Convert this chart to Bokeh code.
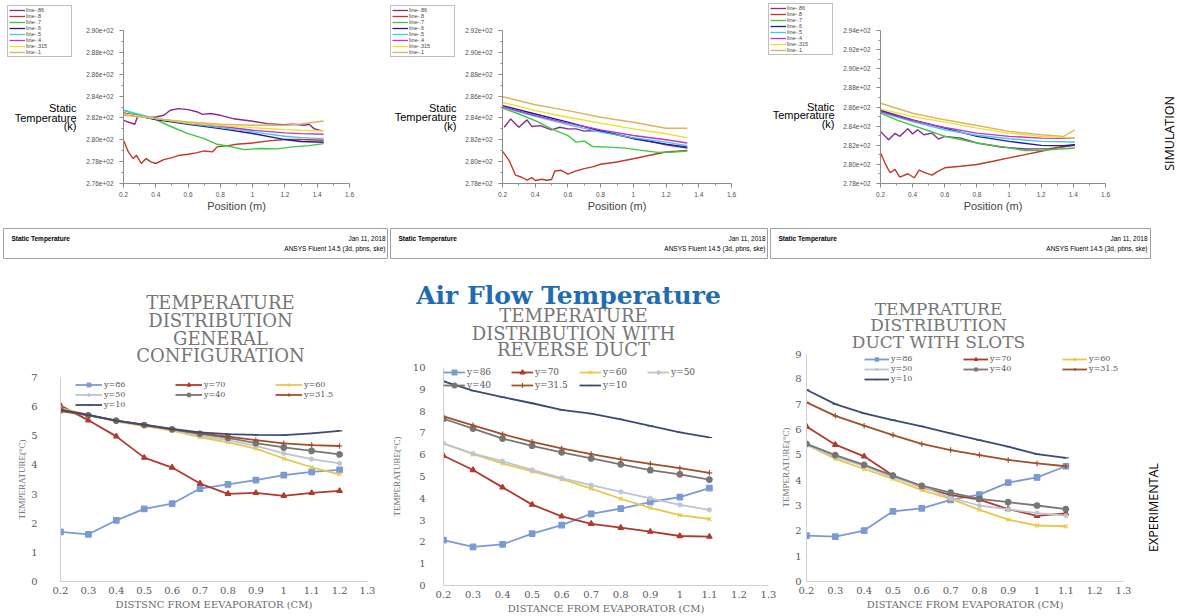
from bokeh.plotting import figure
from bokeh.models import (Range1d, FixedTicker, CustomJSTickFormatter, Label,
                          Legend, LegendItem)
from bokeh.layouts import column, row
from bokeh.embed import file_html
from bokeh.resources import INLINE

# ------------------------------------------------------------------ DATA
sim_names = ["line-.86", "line-.8", "line-.7", "line-.6", "line-.5", "line-.4", "line-.315", "line-.1"]

# ---- simulation panel 1 (general configuration)
sim1_x_smooth = [0.2, 0.4, 0.6, 0.8, 1.0, 1.2, 1.3, 1.44]
sim1_l6 = [282.45, 281.84, 281.42, 281.02, 280.57, 280.02, 279.84, 279.77]
sim1_l5 = [282.70, 281.94, 281.48, 281.11, 280.72, 280.32, 280.20, 280.11]
sim1_l4 = [282.39, 281.94, 281.54, 281.24, 280.87, 280.63, 280.56, 280.51]
sim1_l315 = [282.39, 281.94, 281.54, 281.30, 281.11, 280.93, 280.87, 280.81]
sim1_l1 = [282.24, 281.94, 281.63, 281.42, 281.33, 281.33, 281.45, 281.72]
sim1_x_l7 = [0.2, 0.3, 0.4, 0.5, 0.6, 0.7, 0.78, 0.85, 0.95, 1.05, 1.15, 1.25, 1.35, 1.44]
sim1_l7 = [282.70, 282.24, 281.84, 281.17, 280.57, 280.11, 279.59, 279.41, 279.10, 279.20, 279.17, 279.35, 279.47, 279.65]
sim1_x_l86 = [0.2, 0.27, 0.29, 0.35, 0.4, 0.45, 0.49, 0.54, 0.6, 0.66, 0.69, 0.74, 0.8, 0.88, 0.99, 1.09, 1.19, 1.25, 1.32, 1.35, 1.38, 1.43]
sim1_l86 = [281.78, 281.42, 282.24, 282.03, 282.09, 282.24, 282.70, 282.85, 282.76, 282.54, 282.33, 282.40, 282.24, 281.93, 281.72, 281.48, 281.39, 281.42, 281.33, 281.42, 281.02, 280.81]
sim1_x_l8 = [0.2, 0.23, 0.26, 0.28, 0.31, 0.34, 0.37, 0.4, 0.45, 0.5, 0.55, 0.6, 0.65, 0.7, 0.75, 0.78, 0.85, 0.9, 1.0, 1.1, 1.2, 1.3, 1.44]
sim1_l8 = [279.96, 278.89, 278.28, 278.59, 277.83, 278.28, 277.98, 277.83, 278.19, 278.37, 278.59, 278.68, 278.80, 278.98, 278.89, 279.35, 279.47, 279.59, 279.71, 279.90, 280.02, 280.02, 279.96]

# ---- simulation panel 2 (reverse duct)
sim2_x_smooth = [0.2, 0.4, 0.6, 0.8, 1.0, 1.2, 1.33]
sim2_l1 = [285.94, 285.21, 284.67, 284.06, 283.61, 283.05, 283.06]
sim2_l315 = [285.42, 284.67, 284.06, 283.52, 283.00, 282.55, 282.18]
sim2_l6 = [285.12, 284.36, 283.61, 282.80, 282.10, 281.60, 281.33]
sim2_l4 = [285.03, 284.21, 283.52, 282.91, 282.39, 282.00, 281.70]
sim2_l5 = [284.97, 284.15, 283.39, 282.70, 282.18, 281.79, 281.45]
sim2_x_l7 = [0.2, 0.3, 0.4, 0.5, 0.6, 0.65, 0.7, 0.75, 0.85, 0.95, 1.05, 1.15, 1.25, 1.33]
sim2_l7 = [284.91, 284.36, 283.76, 283.00, 282.39, 281.79, 281.88, 281.39, 281.33, 281.24, 281.03, 280.85, 280.88, 280.97]
sim2_x_l86 = [0.21, 0.25, 0.3, 0.35, 0.38, 0.43, 0.5, 0.55, 0.6, 0.65, 0.7, 0.75, 0.8, 0.9, 1.0, 1.1, 1.2, 1.33]
sim2_l86 = [283.15, 283.91, 283.15, 283.82, 283.21, 283.30, 282.91, 283.15, 283.00, 283.00, 282.79, 282.85, 282.80, 282.50, 282.15, 281.85, 281.55, 281.25]
sim2_x_l8 = [0.2, 0.24, 0.28, 0.32, 0.35, 0.38, 0.4, 0.44, 0.47, 0.5, 0.52, 0.56, 0.6, 0.65, 0.7, 0.75, 0.8, 0.9, 1.0, 1.1, 1.2, 1.33]
sim2_l8 = [280.97, 280.12, 278.76, 278.55, 278.30, 278.55, 278.27, 278.39, 278.30, 278.36, 279.15, 279.21, 278.85, 279.15, 279.36, 279.52, 279.76, 279.97, 280.27, 280.58, 280.88, 281.03]

# ---- simulation panel 3 (duct with slots)
sim3_x_smooth = [0.2, 0.4, 0.6, 0.8, 1.0, 1.2, 1.34, 1.41]
sim3_l1 = [286.39, 285.35, 284.66, 284.07, 283.45, 283.10, 282.93, 283.62]
sim3_l315 = [285.80, 285.00, 284.42, 283.79, 283.27, 282.93, 282.80, 282.75]
sim3_l6 = [285.63, 284.66, 283.79, 282.93, 282.41, 281.99, 281.95, 282.06]
sim3_l4 = [285.52, 284.59, 283.86, 283.27, 282.93, 282.75, 282.72, 282.75]
sim3_l5 = [285.45, 284.48, 283.62, 283.04, 282.68, 282.41, 282.36, 282.34]
sim3_x_l7 = [0.2, 0.3, 0.4, 0.5, 0.6, 0.8, 1.0, 1.1, 1.2, 1.41]
sim3_l7 = [285.35, 284.66, 284.07, 283.52, 282.93, 282.24, 281.72, 281.44, 281.47, 281.72]
sim3_x_l86 = [0.2, 0.25, 0.29, 0.32, 0.37, 0.4, 0.43, 0.47, 0.52, 0.56, 0.6, 0.7, 0.8, 0.95, 1.1, 1.25, 1.41]
sim3_l86 = [283.45, 282.58, 283.24, 282.93, 283.72, 283.17, 283.62, 283.10, 283.27, 282.65, 282.93, 282.75, 282.24, 281.82, 281.61, 281.65, 282.00]
sim3_x_l8 = [0.2, 0.23, 0.26, 0.29, 0.32, 0.37, 0.41, 0.44, 0.48, 0.52, 0.56, 0.6, 0.7, 0.8, 0.9, 1.0, 1.1, 1.2, 1.3, 1.41]
sim3_l8 = [281.20, 280.06, 279.12, 279.47, 278.67, 279.02, 278.60, 279.40, 279.12, 278.88, 279.30, 279.64, 279.81, 279.99, 280.33, 280.68, 281.02, 281.37, 281.72, 282.06]

sim_x_ticks = [0.2, 0.4, 0.6, 0.8, 1.0, 1.2, 1.4, 1.6]
sim_x_minor = [0.3, 0.5, 0.7, 0.9, 1.1, 1.3, 1.5]

# ---- experimental
exp_labels = ["y=86", "y=70", "y=60", "y=50", "y=40", "y=31.5", "y=10"]
exp_x_ticks = [0.2, 0.3, 0.4, 0.5, 0.6, 0.7, 0.8, 0.9, 1.0, 1.1, 1.2, 1.3]

exp1_x = [0.2, 0.3, 0.4, 0.5, 0.6, 0.7, 0.8, 0.9, 1.0, 1.1, 1.2]
exp1_y86 = [1.70, 1.62, 2.10, 2.49, 2.67, 3.19, 3.33, 3.48, 3.65, 3.76, 3.83]
exp1_y70 = [6.04, 5.53, 4.98, 4.25, 3.91, 3.36, 3.01, 3.04, 2.94, 3.04, 3.11]
exp1_y60 = [5.95, 5.72, 5.49, 5.33, 5.18, 4.95, 4.77, 4.56, 4.22, 3.92, 3.68]
exp1_y50 = [5.90, 5.72, 5.50, 5.35, 5.20, 5.00, 4.85, 4.65, 4.40, 4.20, 4.05]
exp1_y40 = [5.88, 5.70, 5.52, 5.37, 5.22, 5.07, 4.93, 4.75, 4.60, 4.48, 4.36]
exp1_y315 = [5.85, 5.70, 5.52, 5.37, 5.22, 5.08, 4.97, 4.85, 4.74, 4.68, 4.65]
exp1_y10 = [5.90, 5.72, 5.52, 5.38, 5.24, 5.12, 5.06, 5.03, 5.02, 5.08, 5.17]

exp2_x = [0.2, 0.3, 0.4, 0.5, 0.6, 0.7, 0.8, 0.9, 1.0, 1.1]
exp2_y86 = [2.08, 1.77, 1.89, 2.38, 2.77, 3.29, 3.53, 3.83, 4.05, 4.47]
exp2_y70 = [5.95, 5.30, 4.50, 3.71, 3.17, 2.83, 2.65, 2.47, 2.27, 2.24]
exp2_y60 = [6.52, 6.02, 5.60, 5.23, 4.88, 4.44, 3.98, 3.56, 3.23, 3.05]
exp2_y50 = [6.52, 6.05, 5.70, 5.30, 4.93, 4.60, 4.30, 4.00, 3.70, 3.47]
exp2_y40 = [7.65, 7.20, 6.74, 6.41, 6.11, 5.83, 5.56, 5.29, 5.10, 4.86]
exp2_y315 = [7.76, 7.35, 6.94, 6.59, 6.29, 6.03, 5.79, 5.58, 5.38, 5.17]
exp2_y10 = [9.36, 8.94, 8.64, 8.36, 8.06, 7.88, 7.62, 7.32, 7.02, 6.79]

exp3_x = [0.2, 0.3, 0.4, 0.5, 0.6, 0.7, 0.8, 0.9, 1.0, 1.1]
exp3_y86 = [1.81, 1.77, 2.01, 2.77, 2.89, 3.22, 3.43, 3.90, 4.11, 4.55]
exp3_y70 = [6.12, 5.40, 4.94, 4.18, 3.72, 3.42, 3.23, 2.86, 2.59, 2.69]
exp3_y60 = [5.40, 4.84, 4.44, 4.05, 3.61, 3.26, 2.83, 2.44, 2.21, 2.18]
exp3_y50 = [5.40, 4.92, 4.55, 4.12, 3.75, 3.30, 3.00, 2.85, 2.70, 2.60]
exp3_y40 = [5.43, 4.99, 4.60, 4.18, 3.78, 3.51, 3.26, 3.13, 3.00, 2.86]
exp3_y315 = [7.07, 6.54, 6.15, 5.78, 5.43, 5.19, 4.99, 4.80, 4.66, 4.55]
exp3_y10 = [7.57, 7.00, 6.64, 6.37, 6.12, 5.85, 5.58, 5.32, 5.03, 4.88]

# ------------------------------------------------------------------ STYLE
SIM_COLORS = ["#8b2a8b", "#c0392b", "#3ec83e", "#1c1c96", "#3cc8f0", "#c832c8", "#ece02c", "#dcb45a"]
EXP_COLORS = ["#7a9ad4", "#b03a2e", "#e8c84a", "#bcc4d4", "#767676", "#a0502a", "#3c4c70"]
EXP_MARKERS = ["square", "triangle", "x", "asterisk", "circle", "cross", "dash"]
GRAY = "#767676"
NAN = float("nan")

fmt_dec = CustomJSTickFormatter(code="return String(Math.round(tick*10)/10);")
fmt_exp = CustomJSTickFormatter(code="""
var s = tick.toExponential(2);
return s.replace(/e([+-])(\\d)$/, function(m, a, b){ return 'e' + a + '0' + b; });
""")


def label(p, x, y, text, size, color="#000000", font="Liberation Sans", align="center",
          baseline="middle", style="normal", angle=0):
    p.add_layout(Label(x=x, y=y, x_units="screen", y_units="screen", text=text,
                       text_font_size=size, text_color=color, text_font=font,
                       text_align=align, text_baseline=baseline, text_font_style=style,
                       angle=angle, angle_units="deg"))


def blank_fig(width, height):
    f = figure(width=width, height=height, x_range=Range1d(0, 1), y_range=Range1d(0, 1),
               output_backend="svg", toolbar_location=None,
               x_axis_location=None, y_axis_location=None,
               min_border_left=0, min_border_right=0,
               min_border_top=0, min_border_bottom=0)
    f.grid.visible = False
    f.outline_line_color = None
    return f


def caption_fig(width, height, text, x, y):
    f = blank_fig(width, height)
    label(f, x, y, text, "12.5px", font="Open Sans", angle=90)
    return f


def sim_side(width, legend_loc, lbl_x, lbl_ys):
    """left part of an ANSYS panel: legend box + horizontal axis title"""
    f = blank_fig(width, 228)
    items = []
    for name, col in zip(sim_names, SIM_COLORS):
        # legend-only key (no visible data of its own)
        r = f.line(x=[NAN, NAN], y=[NAN, NAN], line_color=col, line_width=1.3)
        items.append(LegendItem(label=name, renderers=[r]))
    leg = Legend(items=items, location=legend_loc, label_text_font_size="5.5px",
                 label_text_line_height=0.75, label_height=4, glyph_height=4,
                 glyph_width=16, spacing=0, padding=1, margin=0, label_standoff=1,
                 label_width=44,
                 border_line_color="#808080", label_text_font="Liberation Sans",
                 background_fill_color="white")
    f.add_layout(leg)
    for txt, yy in zip(["Static", "Temperature", "(k)"], lbl_ys):
        label(f, lbl_x, yy, txt, "11px", align="right")
    return f


def sim_fig(width, left, right, top, y0, y1, series):
    p = figure(width=width, height=228, x_range=Range1d(0.2, 1.6), y_range=Range1d(y0, y1),
               output_backend="svg", toolbar_location=None,
               min_border_left=left, min_border_right=right,
               min_border_top=top, min_border_bottom=45)
    p.grid.visible = False
    p.outline_line_color = None
    for (xs, ts), col in zip(series, SIM_COLORS):
        p.line(xs, ts, line_color=col, line_width=1.4)
    p.xaxis.ticker = FixedTicker(ticks=sim_x_ticks, minor_ticks=sim_x_minor)
    p.xaxis.formatter = fmt_dec
    p.yaxis.ticker = FixedTicker(ticks=list(range(y0, y1 + 1, 2)),
                                 minor_ticks=list(range(y0 + 1, y1, 2)))
    p.yaxis.formatter = fmt_exp
    for ax in (p.xaxis[0], p.yaxis[0]):
        ax.axis_line_color = "#8c8c8c"
        ax.major_tick_line_color = "#8c8c8c"
        ax.minor_tick_line_color = "#8c8c8c"
        ax.major_tick_in = 0
        ax.major_tick_out = 4
        ax.minor_tick_in = 0
        ax.minor_tick_out = 2
        ax.major_label_text_font_size = "6.5px"
        ax.major_label_text_color = "#505050"
        ax.major_label_text_font = "Liberation Sans"
    p.yaxis.major_label_standoff = 6
    p.xaxis.major_label_standoff = 4
    p.xaxis.axis_label = "Position (m)"
    p.xaxis.axis_label_text_font = "Liberation Sans"
    p.xaxis.axis_label_text_font_size = "11px"
    p.xaxis.axis_label_text_font_style = "normal"
    p.xaxis.axis_label_standoff = 0
    return p


def footer_fig(width, left, right):
    f = figure(width=width, height=32, x_range=Range1d(0, 1), y_range=Range1d(0, 1),
               output_backend="svg", toolbar_location=None,
               x_axis_location=None, y_axis_location=None,
               min_border_left=left, min_border_right=right,
               min_border_top=0, min_border_bottom=2)
    f.grid.visible = False
    f.outline_line_color = "#a0a0a0"
    fw = width - left - right
    label(f, 8, 20, "Static Temperature", "6.5px", style="bold", align="left")
    label(f, fw - 3, 20, "Jan 11, 2018", "6.5px", align="right")
    label(f, fw - 3, 10, "ANSYS Fluent 14.5 (3d, pbns, ske)", "6.5px", align="right")
    return f


def header_fig(width, height, titles):
    f = blank_fig(width, height)
    for txt, (tx, ty), size, color, style in titles:
        label(f, tx, ty, txt, size, color=color, font="DejaVu Serif", style=style)
    return f


def exp_fig(width, height, left, right, top, bottom, y_max, xs, series, legend_loc, ncols,
            leg_cfg, xlab, tick_standoff, ylab_standoff):
    p = figure(width=width, height=height, x_range=Range1d(0.2, 1.3), y_range=Range1d(0, y_max),
               output_backend="svg", toolbar_location=None,
               min_border_left=left, min_border_right=right,
               min_border_top=top, min_border_bottom=bottom)
    p.grid.visible = False
    p.outline_line_color = None
    items = []
    for lab, ys, col, mk in zip(exp_labels, series, EXP_COLORS, EXP_MARKERS):
        r1 = p.line(xs, ys, line_color=col, line_width=1.8)
        r2 = p.scatter(xs, ys, marker=mk, size=5.5, line_color=col, fill_color=col, line_width=1.2)
        items.append(LegendItem(label=lab, renderers=[r1, r2]))
    gw, lh, lw, fs = leg_cfg
    leg = Legend(items=items, location=legend_loc, orientation="horizontal", ncols=ncols,
                 glyph_width=gw, glyph_height=lh, label_height=lh, label_width=lw,
                 label_standoff=2, spacing=1, padding=0, margin=0,
                 label_text_font_size=fs, label_text_color="#595959",
                 label_text_font="DejaVu Serif", label_text_line_height=0.9,
                 border_line_color=None, background_fill_alpha=0)
    p.add_layout(leg)
    p.xaxis.ticker = FixedTicker(ticks=exp_x_ticks)
    p.xaxis.formatter = fmt_dec
    p.yaxis.ticker = FixedTicker(ticks=list(range(0, y_max + 1)))
    for ax in (p.xaxis[0], p.yaxis[0]):
        ax.axis_line_color = "#d0d0d0"
        ax.major_tick_line_color = None
        ax.minor_tick_line_color = None
        ax.major_tick_out = 0
        ax.minor_tick_out = 0
        ax.major_label_text_font_size = "10px"
        ax.major_label_text_color = "#595959"
        ax.major_label_text_font = "DejaVu Serif"
        ax.axis_label_text_font_style = "normal"
        ax.axis_label_text_color = "#6a6a6a"
    p.xaxis.major_label_standoff = 5
    p.yaxis.major_label_standoff = tick_standoff
    p.xaxis.axis_label = xlab
    p.xaxis.axis_label_text_font = "DejaVu Serif"
    p.xaxis.axis_label_text_font_size = "10px"
    p.xaxis.axis_label_standoff = 2
    p.yaxis.axis_label = "TEMPERATURE(°C)"
    p.yaxis.axis_label_text_font = "Liberation Serif"
    p.yaxis.axis_label_text_font_size = "9px"
    p.yaxis.axis_label_standoff = ylab_standoff
    return p


# ------------------------------------------------------------------ TOP ROW
s1 = [(sim1_x_l86, sim1_l86), (sim1_x_l8, sim1_l8), (sim1_x_l7, sim1_l7),
      (sim1_x_smooth, sim1_l6), (sim1_x_smooth, sim1_l5), (sim1_x_smooth, sim1_l4),
      (sim1_x_smooth, sim1_l315), (sim1_x_smooth, sim1_l1)]
s2 = [(sim2_x_l86, sim2_l86), (sim2_x_l8, sim2_l8), (sim2_x_l7, sim2_l7),
      (sim2_x_smooth, sim2_l6), (sim2_x_smooth, sim2_l5), (sim2_x_smooth, sim2_l4),
      (sim2_x_smooth, sim2_l315), (sim2_x_smooth, sim2_l1)]
s3 = [(sim3_x_l86, sim3_l86), (sim3_x_l8, sim3_l8), (sim3_x_l7, sim3_l7),
      (sim3_x_smooth, sim3_l6), (sim3_x_smooth, sim3_l5), (sim3_x_smooth, sim3_l4),
      (sim3_x_smooth, sim3_l315), (sim3_x_smooth, sim3_l1)]

tl1 = sim_side(78, (7, 171), 76, [121, 111, 103])
tm1 = sim_fig(310, 45, 39, 30, 276, 290, s1)
tl2 = sim_side(69, (2, 171), 68, [121, 112, 103])
tm2 = sim_fig(311, 45, 37, 29, 278, 292, s2)
tl3 = sim_side(69, (0, 173), 66, [122, 114, 105])
tm3 = sim_fig(320, 43, 52, 28, 278, 294, s3)
cap_sim = caption_fig(20, 228, "SIMULATION", 12, 95)

f1 = footer_fig(388, 3, 0)
f2 = footer_fig(380, 2, 0)
f3 = footer_fig(409, 2, 27)

# ------------------------------------------------------------------ BOTTOM ROW
h1 = header_fig(388, 106,
                [("TEMPERATURE", (220, 64), "18px", GRAY, "normal"),
                 ("DISTRIBUTION", (220, 46), "18px", GRAY, "normal"),
                 ("GENERAL", (220, 28), "18px", GRAY, "normal"),
                 ("CONFIGURATION", (220, 11), "18px", GRAY, "normal")])
b1 = exp_fig(388, 250, 60, 21, 11, 35, 7, exp1_x,
             [exp1_y86, exp1_y70, exp1_y60, exp1_y50, exp1_y40, exp1_y315, exp1_y10],
             (15, 172), 3, (27, 9, 70, "8px"),
             "DISTSNC FROM EEVAPORATOR (CM)", 23, 1)

h2 = header_fig(390, 100,
                [("Air Flow Temperature", (180, 65), "25px", "#1f6db0", "bold"),
                 ("TEMPERATURE", (185, 45), "18px", GRAY, "normal"),
                 ("DISTRIBUTION WITH", (185, 27), "18px", GRAY, "normal"),
                 ("REVERSE DUCT", (185, 11), "18px", GRAY, "normal")])
b2 = exp_fig(390, 256, 54, 10, 7, 31, 10, exp2_x,
             [exp2_y86, exp2_y70, exp2_y60, exp2_y50, exp2_y40, exp2_y315, exp2_y10],
             (0, 194), 4, (22, 12, 43, "9px"),
             "DISTANCE FROM EVAPORATOR (CM)", 18, 8)

h3 = header_fig(367, 90,
                [("TEMPRATURE", (160, 42), "17px", GRAY, "normal"),
                 ("DISTRIBUTION", (160, 26), "17px", GRAY, "normal"),
                 ("DUCT WITH SLOTS", (160, 9), "17px", GRAY, "normal")])
b3 = exp_fig(367, 266, 24, 22, 3, 35, 9, exp3_x,
             [exp3_y86, exp3_y70, exp3_y60, exp3_y50, exp3_y40, exp3_y315, exp3_y10],
             (58, 198), 3, (25, 8, 71, "8px"),
             "DISTANCE FROM EVAPORATOR (CM)", 5, 1)
cap_exp = caption_fig(32, 356, "EXPERIMENTAL", 8, 109)

layout = column(row(column(tl1), tm1, column(tl2), tm2, column(tl3), tm3, column(cap_sim)),
                row(f1, f2, f3),
                row(column(row(h1), b1), column(row(h2), b2), column(row(h3), b3),
                    column(cap_exp)))

open("out.html", "w").write(file_html(layout, INLINE))
